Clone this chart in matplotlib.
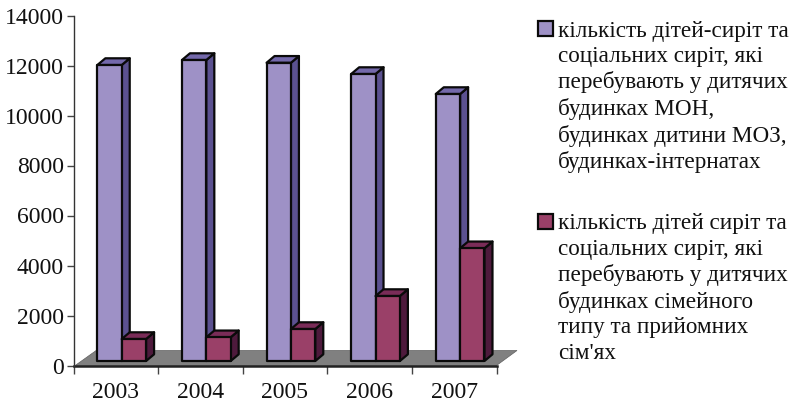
import matplotlib
matplotlib.use('Agg')
import matplotlib.pyplot as plt
from matplotlib.patches import Polygon, Rectangle

years = ['2003', '2004', '2005', '2006', '2007']
institutions = [11840, 12040, 11930, 11480, 10680]
family_care = [880, 950, 1280, 2600, 4510]
legend_institutions = 'кількість дітей-сиріт та\nсоціальних сиріт, які\nперебувають у дитячих\nбудинках МОН,\nбудинках дитини МОЗ,\nбудинках-інтернатах'
legend_family = "кількість дітей сиріт та\nсоціальних сиріт, які\nперебувають у дитячих\nбудинках сімейного\nтипу та прийомних\nсім'ях"

W, H = 801, 403
X0, X1 = 73.5, 496.5
Y0, Y1 = 365.5, 15.5
px_x = len(years) / (X1 - X0)  # data per pixel
px_y = 14000 / (Y0 - Y1)
dx = 8 * px_x  # bar depth
dy = 6.7 * px_y
base = 4.5 * px_y  # bars stand a little behind the axis plane
bar_w = 0.288
bar_off = 0.282

plt.rcParams['font.family'] = ['Liberation Serif', 'DejaVu Serif']
fig = plt.figure(figsize=(W / 100, H / 100), dpi=100)
ax = fig.add_axes([X0 / W, 1 - Y0 / H, (X1 - X0) / W, (Y0 - Y1) / H])
ax.set_xlim(0, len(years))
ax.set_ylim(0, 14000)
ax.patch.set_alpha(0)


def bar3d(x, h, front, side, top):
    y0, y1 = base, base + h
    x1 = x + bar_w
    kw = dict(edgecolor='#0a0a0a', linewidth=1.6, joinstyle='round', clip_on=False, zorder=3)
    ax.add_patch(Polygon([(x1, y0), (x1 + dx, y0 + dy), (x1 + dx, y1 + dy), (x1, y1)], facecolor=side, **kw))
    ax.add_patch(Polygon([(x, y1), (x + dx, y1 + dy), (x1 + dx, y1 + dy), (x1, y1)], facecolor=top, **kw))
    ax.add_patch(Rectangle((x, y0), bar_w, h, facecolor=front, **kw))


# floor
ax.add_patch(Polygon([(0.02, 0), (0.02 + 21 * px_x, 15 * px_y), (len(years) + 20.5 * px_x, 15 * px_y), (len(years), 0)],
                     facecolor='#808080', edgecolor='#606060', linewidth=0.5, clip_on=False, zorder=1))
ax.plot([0, len(years)], [0, 0], color='#222222', lw=1.8, zorder=2, clip_on=False)

for i in range(len(years)):
    bar3d(i + bar_off, institutions[i], '#9e91c6', '#5b5190', '#7469ab')
    bar3d(i + bar_off + bar_w, family_care[i], '#9a4068', '#4e1a3c', '#7a2c58')

for s in ['top', 'right']:
    ax.spines[s].set_visible(False)
ax.spines['left'].set_color('#333333')
ax.spines['left'].set_linewidth(1)
ax.spines['bottom'].set_visible(False)
ax.set_yticks(range(0, 14001, 2000))
ax.set_xticks(range(len(years) + 1))
ax.set_xticks([i + 0.5 for i in range(len(years))], minor=True)
ax.set_xticklabels([])
ax.set_xticklabels(years, minor=True)
ax.tick_params(axis='y', length=5, width=1, color='#444444', labelsize=17, pad=2, labelcolor='#111111')
ax.tick_params(axis='x', which='major', length=6, width=1, color='#444444')
ax.tick_params(axis='x', which='minor', length=0, labelsize=17, pad=12, labelcolor='#111111')
for lab in ax.get_yticklabels():
    lab.set_verticalalignment('center_baseline')

# legend
for top, txt, color in [(21, legend_institutions, '#9e91c6'), (214, legend_family, '#9a4068')]:
    fig.add_artist(Rectangle((537.5 / W, 1 - (top + 15) / H), 15 / W, 15 / H, transform=fig.transFigure,
                             facecolor=color, edgecolor='#0a0a0a', linewidth=1.6))
    fig.text(558 / W, 1 - (top - 0.5) / H, txt, fontsize=16.7, va='top', ha='left', linespacing=1.27, color='#111111')

fig.savefig('out.png', dpi=100)
